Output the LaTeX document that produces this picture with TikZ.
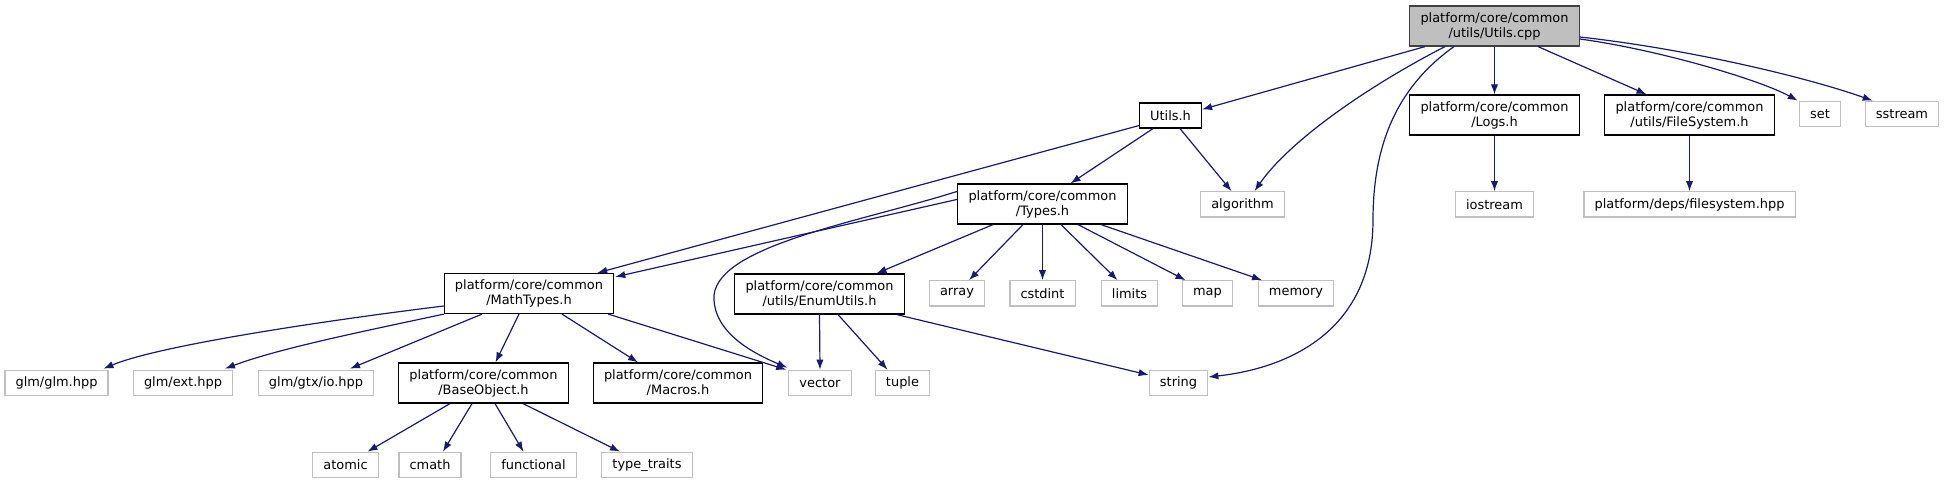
\documentclass[tikz,border=0pt]{standalone}
\usepackage{fontspec}
\setmainfont{DejaVu Sans}
\usepackage{xcolor}
\usepackage{tikz}
\usetikzlibrary{arrows.meta}
\definecolor{edgeblue}{HTML}{191970}
\definecolor{extgray}{HTML}{BFBFBF}
\definecolor{rootdraw}{HTML}{404040}

\begin{document}
\begin{tikzpicture}[
  x=0.75pt, y=-0.75pt,
  font=\fontsize{9.7}{11.3}\selectfont,
  box/.style={draw=black, line width=0.9pt, fill=white, align=center,
              inner xsep=8pt, inner ysep=1pt, minimum height=30pt},
  root/.style={box, draw=rootdraw, fill=extgray},
  ext/.style={draw=extgray, line width=1pt, fill=white, align=center,
              inner xsep=8pt, inner ysep=1pt, minimum height=19pt},
  ar/.style={draw=edgeblue, line width=0.9pt,
             -{Latex[length=7.5pt, width=5.5pt]}}
]
\useasboundingbox (0,0) rectangle (1945,484);

% top rows
\node[root] (cpp) at (1494.5,26) {platform/core/common\\/utils/Utils.cpp};
\node[box, minimum height=18.75pt] (utilsh) at (1170.5,115.5) {Utils.h};
\node[box] (logs) at (1494.5,115) {platform/core/common\\/Logs.h};
\node[box] (fsys) at (1689.5,115) {platform/core/common\\/utils/FileSystem.h};
\node[ext] (set) at (1820,114) {set};
\node[ext] (sstream) at (1902,114) {sstream};

\node[ext] (algo) at (1242.5,204.5) {algorithm};
\node[ext] (iostream) at (1494.5,204.5) {iostream};
\node[ext] (fshpp) at (1689.5,204.5) {platform/deps/filesystem.hpp};
\node[box] (types) at (1042.5,204) {platform/core/common\\/Types.h};

% middle row
\node[box] (mathtypes) at (529,293.5) {platform/core/common\\/MathTypes.h};
\node[box] (enumutils) at (819.5,294) {platform/core/common\\/utils/EnumUtils.h};
\node[ext] (array) at (957,293.5) {array};
\node[ext] (cstdint) at (1042.5,293.5) {cstdint};
\node[ext] (limits) at (1129.5,293.5) {limits};
\node[ext] (map) at (1207.5,293.5) {map};
\node[ext] (memory) at (1296,293.5) {memory};

% lower rows
\node[ext] (glm) at (56.5,383) {glm/glm.hpp};
\node[ext] (ext) at (183,383) {glm/ext.hpp};
\node[ext] (gtx) at (316,383) {glm/gtx/io.hpp};
\node[box] (baseobj) at (483.5,383) {platform/core/common\\/BaseObject.h};
\node[box] (macros) at (678,383) {platform/core/common\\/Macros.h};
\node[ext] (vector) at (820,383) {vector};
\node[ext] (tuple) at (902.5,383) {tuple};
\node[ext] (string) at (1178.5,383) {string};

\node[ext] (atomic) at (345.5,465) {atomic};
\node[ext] (cmath) at (430,465) {cmath};
\node[ext] (functional) at (533.5,465) {functional};
\node[ext] (traits) at (647,465) {type\_traits};

% Utils.cpp
\draw[ar] ([shift={(-69.5,0)}]cpp.south) -- ([shift={(0,7)}]utilsh.north east);
\draw[ar] ([shift={(-49.5,0)}]cpp.south) .. controls (1370,85) and (1290,140) .. ([shift={(12,0)}]algo.north);
\draw[ar] ([shift={(-40.5,0)}]cpp.south) .. controls (1400,85) and (1373,140) .. (1373,220)
  .. controls (1373,330) and (1290,368) .. ([shift={(0,-6)}]string.east);
\draw[ar] (cpp.south) -- (logs.north);
\draw[ar] ([shift={(43.5,0)}]cpp.south) -- ([shift={(-43,0)}]fsys.north);
\draw[ar] ([shift={(0,13)}]cpp.east) .. controls (1660,50) and (1760,80) .. ([shift={(-1,0)}]set.north west);
\draw[ar] ([shift={(0,11)}]cpp.east) .. controls (1680,48) and (1800,75) .. ([shift={(8,0)}]sstream.north west);

% Utils.h
\draw[ar] ([shift={(0,-3)}]utilsh.south west) -- ([shift={(-17,0)}]mathtypes.north east);
\draw[ar] ([shift={(-17.5,0)}]utilsh.south) -- ([shift={(28,0)}]types.north);
\draw[ar] ([shift={(9.5,0)}]utilsh.south) -- ([shift={(-11,0)}]algo.north);

% Types.h
\draw[ar] ([shift={(0,16)}]types.north west) -- ([shift={(1,4)}]mathtypes.north east);
\draw[ar] ([shift={(0,8)}]types.north west) .. controls (860,222) and (720,245) .. (714,295)
  .. controls (712,335) and (760,356) .. ([shift={(-1,-2)}]vector.north west);
\draw[ar] ([shift={(-49.5,0)}]types.south) -- ([shift={(57,0)}]enumutils.north);
\draw[ar] ([shift={(-19.5,0)}]types.south) -- ([shift={(12,0)}]array.north);
\draw[ar] (types.south) -- (cstdint.north);
\draw[ar] ([shift={(18.5,0)}]types.south) -- ([shift={(-12,0)}]limits.north);
\draw[ar] ([shift={(35.5,0)}]types.south) -- ([shift={(-22,0)}]map.north);
\draw[ar] ([shift={(58.5,0)}]types.south) -- ([shift={(-34,0)}]memory.north);

% MathTypes.h
\draw[ar] ([shift={(0,12.5)}]mathtypes.west) .. controls (330,320) and (160,345) .. ([shift={(47,-1)}]glm.north);
\draw[ar] (mathtypes.south west) .. controls (370,330) and (280,348) .. ([shift={(42,-1)}]ext.north);
\draw[ar] ([shift={(-47,0)}]mathtypes.south) -- ([shift={(34,-1)}]gtx.north);
\draw[ar] ([shift={(-10,0)}]mathtypes.south) -- ([shift={(12,0)}]baseobj.north);
\draw[ar] ([shift={(33,0)}]mathtypes.south) -- ([shift={(-40,0)}]macros.north);
\draw[ar] ([shift={(-6,0)}]mathtypes.south east) -- ([shift={(-2,0)}]vector.north west);

% EnumUtils.h
\draw[ar] (enumutils.south) -- (vector.north);
\draw[ar] ([shift={(18.5,0)}]enumutils.south) -- ([shift={(-15,0)}]tuple.north);
\draw[ar] ([shift={(-8,0)}]enumutils.south east) -- ([shift={(0,-8)}]string.west);

% BaseObject.h
\draw[ar] ([shift={(-33.5,0)}]baseobj.south) -- ([shift={(22,0)}]atomic.north);
\draw[ar] ([shift={(-11.5,0)}]baseobj.south) -- ([shift={(13,0)}]cmath.north);
\draw[ar] ([shift={(11.5,0)}]baseobj.south) -- ([shift={(-10,0)}]functional.north);
\draw[ar] ([shift={(39.5,0)}]baseobj.south) -- ([shift={(-27,0)}]traits.north);

% Logs.h and FileSystem.h
\draw[ar] (logs.south) -- (iostream.north);
\draw[ar] (fsys.south) -- (fshpp.north);
\end{tikzpicture}
\end{document}
